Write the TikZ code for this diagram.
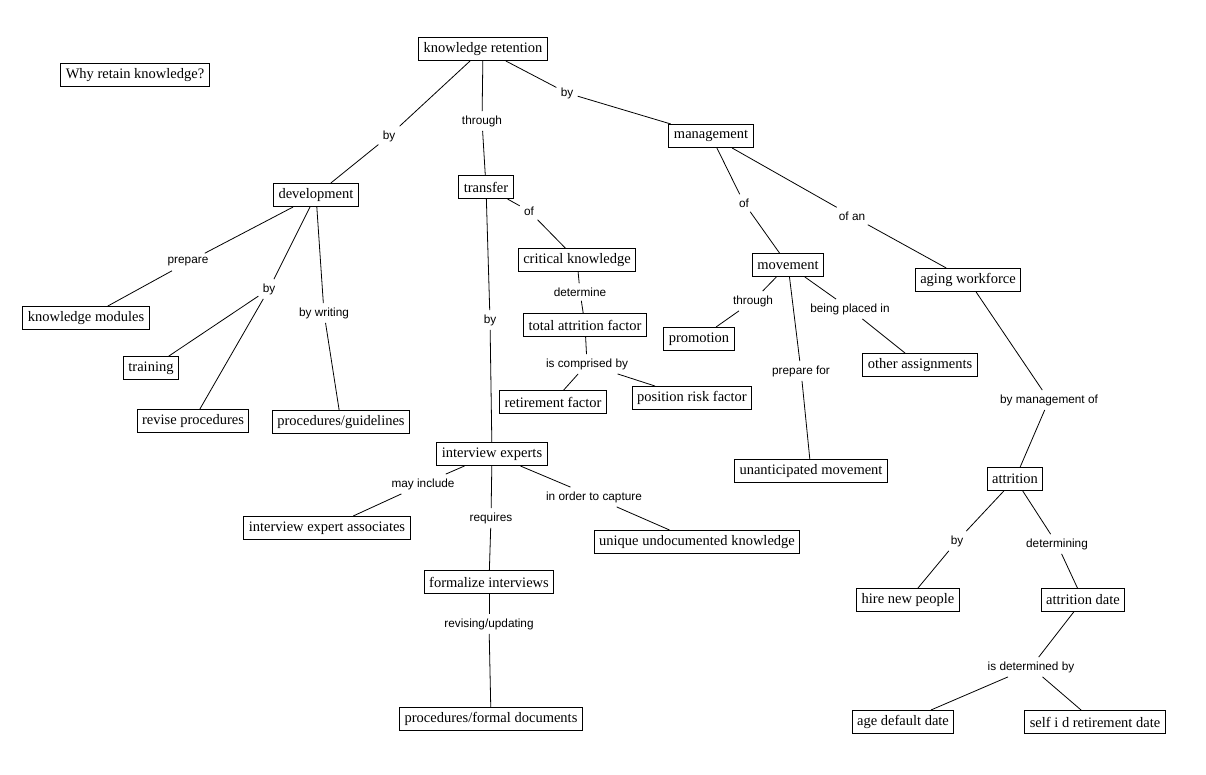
\documentclass[tikz,border=0pt]{standalone}
\usepackage{fontspec}
\setmainfont{Liberation Serif}
\setsansfont{Liberation Sans}
\tikzstyle{concept}=[%
  draw,
  line width=1pt,
  inner xsep=5pt,
  inner ysep=0pt,
  minimum height=23pt,
  font=\fontsize{14.5}{16}\selectfont
]
\tikzstyle{linkword}=[%
  inner sep=4pt,
  font=\sffamily\fontsize{11.8}{13}\selectfont
]
\begin{document}
\begin{tikzpicture}[x=1pt, y=-1pt, line width=0.8pt]
    \useasboundingbox (0,-2) rectangle (1206,772);

    % concepts
    \node[concept] (why) at (135, 73) {Why retain knowledge?};
    \node[concept] (kr) at (483, 47) {knowledge retention};
    \node[concept] (dev) at (316, 193) {development};
    \node[concept] (trans) at (486, 185) {transfer};
    \node[concept] (mgmt) at (711, 134) {management};
    \node[concept] (crit) at (577, 258) {critical knowledge};
    \node[concept] (taf) at (585, 323) {total attrition factor};
    \node[concept] (ret) at (553, 400) {retirement factor};
    \node[concept] (prf) at (692, 396) {position risk factor};
    \node[concept] (mov) at (788, 263) {movement};
    \node[concept] (promo) at (699, 337) {promotion};
    \node[concept] (other) at (920, 363) {other assignments};
    \node[concept] (aging) at (968, 278) {aging workforce};
    \node[concept] (km) at (86, 316) {knowledge modules};
    \node[concept] (train) at (151, 366) {training};
    \node[concept] (revise) at (193, 419) {revise procedures};
    \node[concept] (pg) at (341, 420) {procedures/guidelines};
    \node[concept] (ie) at (492, 452) {interview experts};
    \node[concept] (unant) at (811, 469) {unanticipated movement};
    \node[concept] (iea) at (327, 526) {interview expert associates};
    \node[concept] (uuk) at (697, 540) {unique undocumented knowledge};
    \node[concept] (fi) at (489, 580) {formalize interviews};
    \node[concept] (pfd) at (491, 717) {procedures/formal documents};
    \node[concept] (attr) at (1015, 477) {attrition};
    \node[concept] (hire) at (908, 598) {hire new people};
    \node[concept] (adate) at (1083, 598) {attrition date};
    \node[concept] (age) at (903, 720) {age default date};
    \node[concept] (self) at (1095, 720) {self i d retirement date};

    % linking words
    \node[linkword] (krby) at (389, 134) {by};
    \node[linkword] (krthrough) at (482, 119) {through};
    \node[linkword] (krbym) at (567, 91) {by};
    \node[linkword] (transof) at (529, 209) {of};
    \node[linkword] (critdet) at (580, 290) {determine};
    \node[linkword] (tafcomp) at (587, 362) {is comprised by};
    \node[linkword] (mgmtof) at (744, 201) {of};
    \node[linkword] (mgmtofan) at (852, 214) {of an};
    \node[linkword] (movthrough) at (753, 299) {through};
    \node[linkword] (movplaced) at (850, 307) {being placed in};
    \node[linkword] (movprep) at (801, 369) {prepare for};
    \node[linkword] (devprep) at (188, 260) {prepare};
    \node[linkword] (devby) at (269, 287) {by};
    \node[linkword] (devwrite) at (324, 311) {by writing};
    \node[linkword] (transby) at (490, 318) {by};
    \node[linkword] (iemay) at (423, 482) {may include};
    \node[linkword] (iereq) at (491, 516) {requires};
    \node[linkword] (iecap) at (594, 495) {in order to capture};
    \node[linkword] (firev) at (489, 622) {revising/updating};
    \node[linkword] (agingby) at (1049, 398) {by management of};
    \node[linkword] (attrby) at (957, 539) {by};
    \node[linkword] (attrdet) at (1057, 542) {determining};
    \node[linkword] (adatedet) at (1031, 665) {is determined by};

    % connectors
    \foreach \a/\b in {kr/krby, krby/dev, kr/krthrough, krthrough/trans,
                       kr/krbym, krbym/mgmt, trans/transof, transof/crit,
                       crit/critdet, critdet/taf, taf/tafcomp, tafcomp/ret,
                       tafcomp/prf, mgmt/mgmtof, mgmtof/mov, mgmt/mgmtofan,
                       mgmtofan/aging, mov/movthrough, movthrough/promo,
                       mov/movplaced, movplaced/other, mov/movprep,
                       movprep/unant, dev/devprep, devprep/km, dev/devby,
                       devby/train, devby/revise, dev/devwrite, devwrite/pg,
                       trans/transby, transby/ie, ie/iemay, iemay/iea,
                       ie/iereq, iereq/fi, ie/iecap, iecap/uuk, fi/firev,
                       firev/pfd, aging/agingby, agingby/attr, attr/attrby,
                       attrby/hire, attr/attrdet, attrdet/adate,
                       adate/adatedet, adatedet/age, adatedet/self} {%
      \draw (\a) -- (\b);
    }
\end{tikzpicture}
\end{document}
